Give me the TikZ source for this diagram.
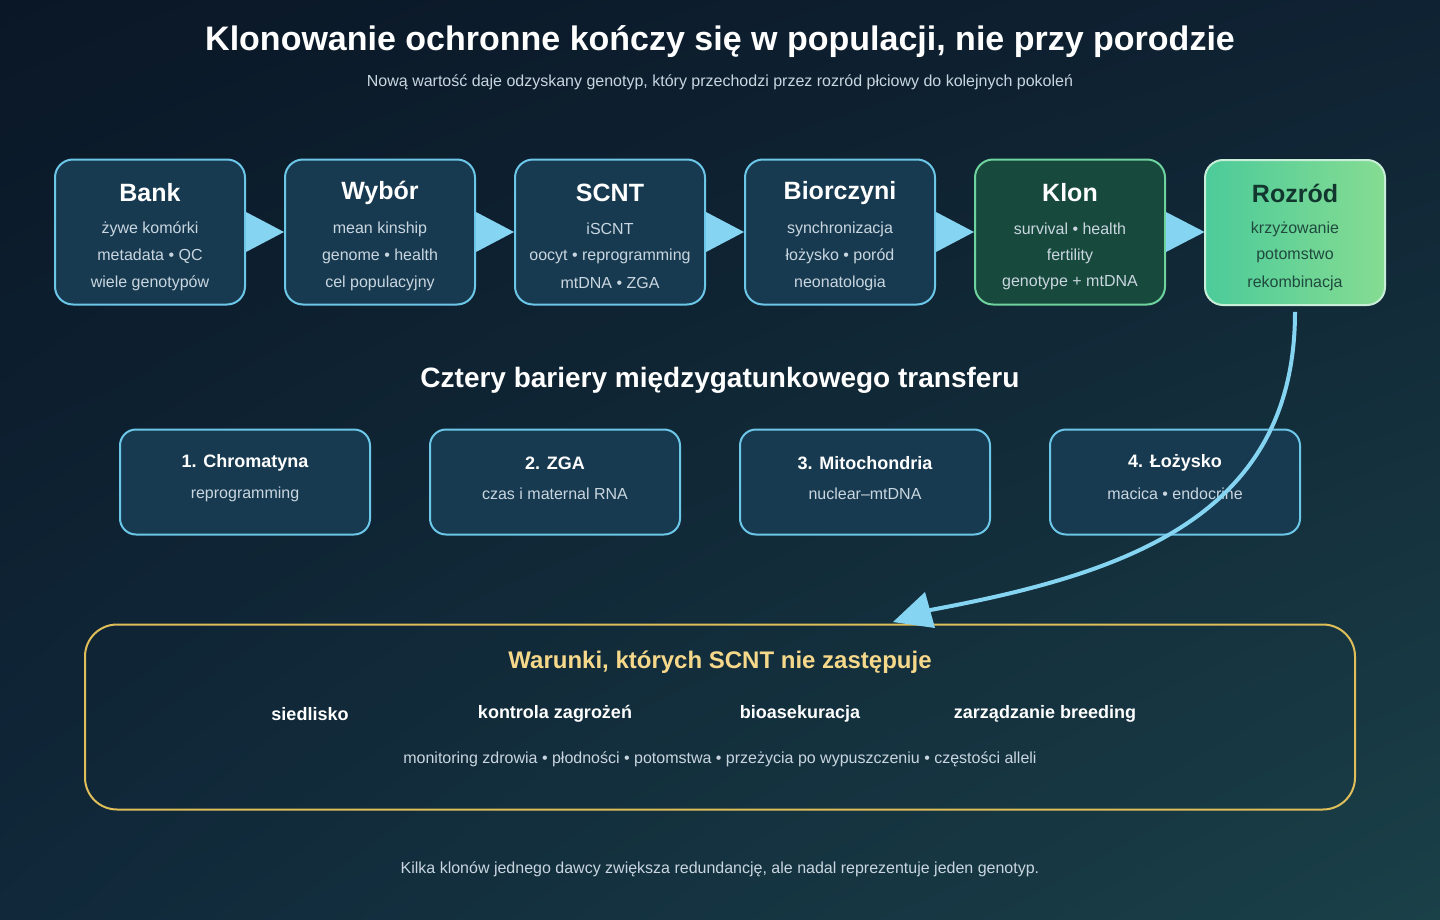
\documentclass[tikz,border=0pt]{standalone}
\usepackage{fontspec}
\setmainfont{Liberation Sans}
\usetikzlibrary{shadings}
\definecolor{boxf}{HTML}{173A50}
\definecolor{subc}{HTML}{C9D6E0}
\definecolor{arr}{HTML}{84D4F2}
\definecolor{gold}{HTML}{E0BE5A}
\definecolor{bgul}{HTML}{0A1726}
\definecolor{bgur}{HTML}{0F2233}
\definecolor{bgll}{HTML}{10283A}
\definecolor{bglr}{HTML}{1A4048}
\definecolor{klf}{HTML}{17493D}
\definecolor{kld}{HTML}{6FD39E}
\definecolor{rzl}{HTML}{4CCB9A}
\definecolor{rzr}{HTML}{86DC92}
\definecolor{rzd}{HTML}{C8EED8}
\definecolor{rzh}{HTML}{12372E}
\definecolor{rzt}{HTML}{1F4A3E}
\definecolor{goldt}{HTML}{F6D88A}
\definecolor{bdr}{HTML}{6CC6E8}
\begin{document}
\begin{tikzpicture}[x=0.5pt,y=-0.5pt,
 box/.style={draw=bdr,line width=1pt,rounded corners=9pt,fill=boxf,minimum width=95pt,minimum height=72.5pt},
 bar/.style={draw=bdr,line width=1pt,rounded corners=8pt,fill=boxf,minimum width=125pt,minimum height=52.5pt},
 hd/.style={font=\bfseries\fontsize{12.5}{14}\selectfont,text=white},
 sub/.style={font=\fontsize{8}{10}\selectfont,text=subc}]
\useasboundingbox (0,0) rectangle (1440,920);
\shade[upper left=bgul, upper right=bgur, lower left=bgll, lower right=bglr] (0,0) rectangle (1440,920);
\node[font=\bfseries\fontsize{17}{20}\selectfont,text=white] (title) at (720,42) {Klonowanie ochronne kończy się w populacji, nie przy porodzie};
\node[sub] (stitle) at (720,82) {Nową wartość daje odzyskany genotyp, który przechodzi przez rozród płciowy do kolejnych pokoleń};
% top row
\node[box] (b1) at (150,232) {};
\node[box] (b2) at (380,232) {};
\node[box] (b3) at (610,232) {};
\node[box] (b4) at (840,232) {};
\node[box,fill=klf,draw=kld] (b5) at (1070,232) {};
\shade[left color=rzl,right color=rzr,draw=rzd,line width=1pt,rounded corners=9pt] (1205,160) rectangle (1385,305);
\node[minimum width=90pt,minimum height=72.5pt] (b6) at (1295,232) {};
\foreach \a/\b in {b1/b2,b2/b3,b3/b4,b4/b5,b5/b6}{
 \fill[arr] ([yshift=-10pt]\a.east) -- ([yshift=10pt]\a.east) -- (\b.west) -- cycle;}
\foreach \n/\x/\t/\l/\m/\r in {
 t1/150/Bank/żywe komórki/metadata • QC/wiele genotypów,
 t2/380/Wybór/mean kinship/genome • health/cel populacyjny,
 t3/610/SCNT / iSCNT/oocyt • reprogramming/mtDNA • ZGA/blastocysta,
 t4/840/Biorczyni/synchronizacja/łożysko • poród/neonatologia,
 t5/1070/Klon/survival • health/fertility/genotype + mtDNA}{
 \node[hd] (\n h) at (\x,193) {\t};
 \node[sub] (\n a) at (\x,229) {\l};
 \node[sub] (\n b) at (\x,256) {\m};
 \node[sub] (\n c) at (\x,283) {\r};}
\node[hd,text=rzh] (t6h) at (1295,193) {Rozród};
\node[sub,text=rzt] (t6a) at (1295,229) {krzyżowanie};
\node[sub,text=rzt] (t6b) at (1295,256) {potomstwo};
\node[sub,text=rzt] (t6c) at (1295,283) {rekombinacja};
% barriers
\node[font=\bfseries\fontsize{14}{16}\selectfont,text=white] (bt) at (720,380) {Cztery bariery międzygatunkowego transferu};
\foreach \n/\x/\t/\s in {c1/245/1. Chromatyna/reprogramming, c2/555/2. ZGA/czas i maternal RNA, c3/865/3. Mitochondria/nuclear–mtDNA, c4/1175/4. Łożysko/macica • endocrine}{
 \node[bar] (\n) at (\x,482) {};
 \node[font=\bfseries\fontsize{9}{11}\selectfont,text=white] (\n h) at (\x,463) {\t};
 \node[sub] (\n s) at (\x,494) {\s};}
% bottom
\node[draw=gold,line width=1pt,rounded corners=16pt,minimum width=635pt,minimum height=92.5pt] (w) at (720,717) {};
\node[font=\bfseries\fontsize{12}{14}\selectfont,text=goldt] (wh) at (720,662) {Warunki, których SCNT nie zastępuje};
\foreach \n/\x/\t in {w1/310/siedlisko,w2/555/kontrola zagrożeń,w3/800/bioasekuracja,w4/1045/zarządzanie breeding}
 \node[font=\bfseries\fontsize{9}{11}\selectfont,text=white] (\n) at (\x,714) {\t};
\node[sub] (wl) at (720,759) {monitoring zdrowia • płodności • potomstwa • przeżycia po wypuszczeniu • częstości alleli};
\node[sub] (foot) at (720,869) {Kilka klonów jednego dawcy zwiększa redundancję, ale nadal reprezentuje jeden genotyp.};
% curve
\coordinate (tip) at (893,622);
\draw[arr,line width=2pt] ([yshift=-3.5pt]b6.south) .. controls (1295,520) and (1120,575) .. (925,611);
\fill[arr] (tip) -- (925,592) -- (935,628) -- cycle;
\end{tikzpicture}
\end{document}
